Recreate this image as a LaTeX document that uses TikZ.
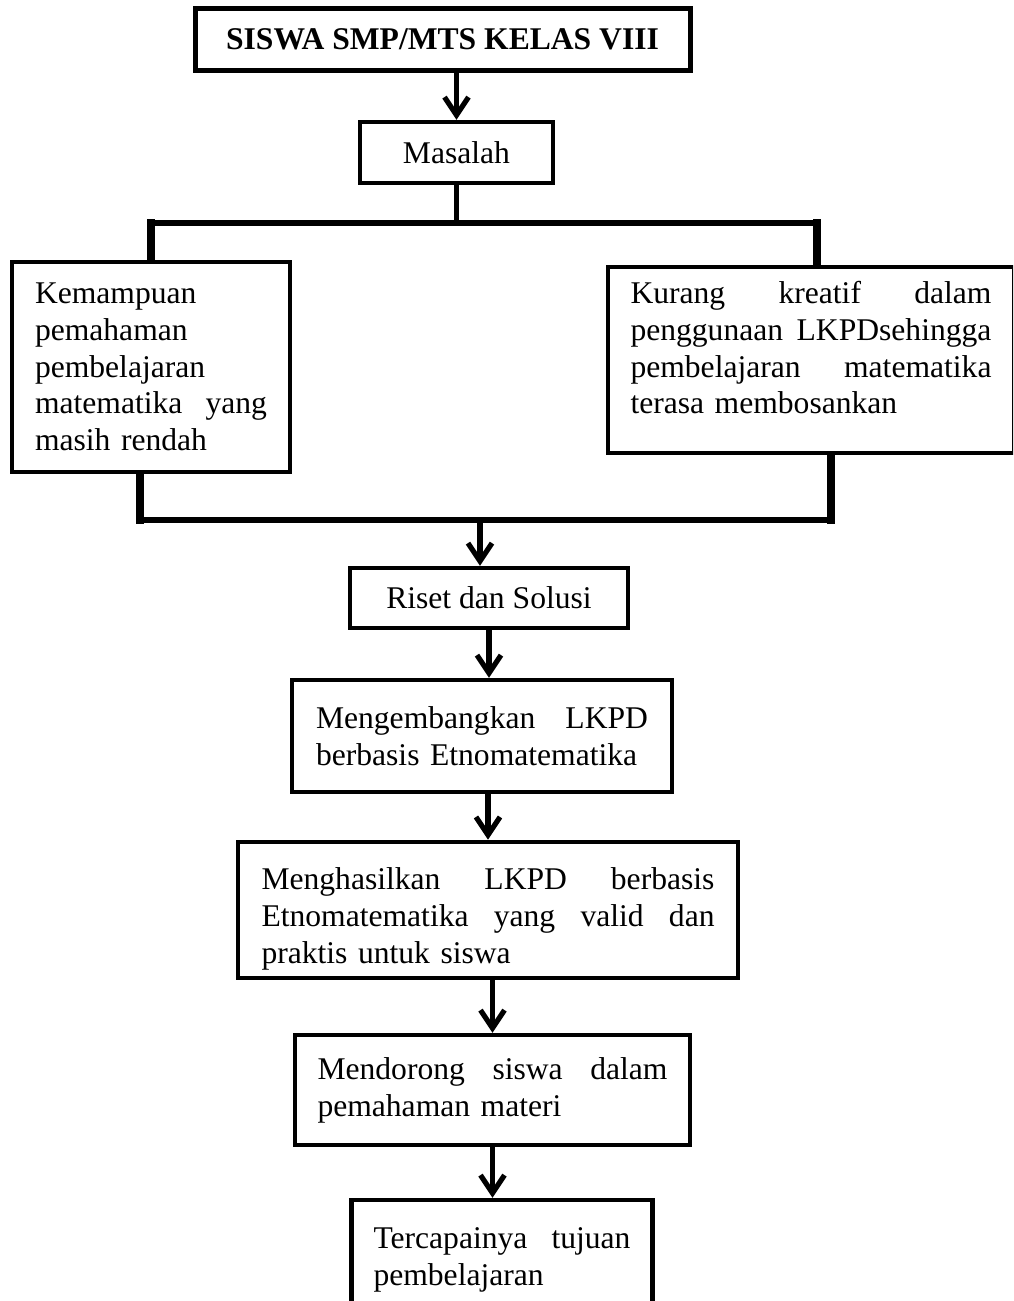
\documentclass[tikz,border=0pt]{standalone}
\usepackage{fontspec}
\setmainfont{Liberation Serif}
\usepackage{tikz}
\usetikzlibrary{positioning}
\usetikzlibrary{arrows.meta}

\tikzset{
  box/.style={draw, line width=2.2pt, rectangle, inner xsep=11pt, inner ysep=4pt,
    font=\fontsize{15.8}{18.4}\selectfont},
  textbox/.style={box, align=left},
  link/.style={line width=2.8pt, line cap=rect},
  stub/.style={line width=3.8pt, line cap=rect},
  arr/.style={line width=2.6pt, -{Straight Barb[length=9pt,width=12pt,line width=2.6pt]}}
}

\begin{document}
\begin{tikzpicture}[x=0.5pt,y=-0.5pt]

\useasboundingbox (0,0) rectangle (1013,1301);
\clip (0,0) rectangle (1013,1301);

%\draw[gray,very thin, step=50, opacity=0.5] (0,0) grid (1013,1301);

\node[box, line width=2.5pt] (siswa) at (442.5,39) [minimum width=247.5pt, minimum height=31pt] {\textbf{SISWA SMP/MTS KELAS VIII}};
\node[box] (masalah) at (456.5,152.5) [minimum width=96.5pt, minimum height=30.5pt] {Masalah};

\node[textbox] (kemampuan) at (151,367) [minimum width=139pt, minimum height=105pt, text width=116pt]
  {Kemampuan\\ pemahaman\\ pembelajaran\\ matematika\hfill yang\\ masih rendah};
\node[textbox] (kurang) at (811,360) [minimum width=203pt, minimum height=93pt, text width=180.5pt]
  {Kurang\hfill kreatif\hfill dalam\\ penggunaan\hfill LKPDsehingga\\ pembelajaran\hfill matematika\\ terasa membosankan\rule[-12.5pt]{0pt}{1pt}};

\node[box] (riset) at (489,598) [minimum width=139pt, minimum height=30pt] {Riset dan Solusi};
\node[textbox] (kembang) at (482,736) [minimum width=190pt, minimum height=56pt, text width=166pt]
  {Mengembangkan\hfill LKPD\\ berbasis Etnomatematika};
\node[textbox] (hasil) at (488,910) [minimum width=250pt, minimum height=67pt, text width=226.5pt]
  {\rule{0pt}{20pt}Menghasilkan\hfill LKPD\hfill berbasis\\ Etnomatematika\hfill yang\hfill valid\hfill dan\\ praktis untuk siswa};
\node[textbox] (dorong) at (492.5,1090) [minimum width=197.5pt, minimum height=55pt, text width=175pt]
  {Mendorong\hfill siswa\hfill dalam\\ pemahaman materi};
\node[textbox] (tujuan) at (502,1260) [minimum width=150pt, minimum height=60pt, text width=128.5pt]
  {Tercapainya\hfill tujuan\\ pembelajaran};

% branching
\coordinate (split) at (456.5,223);
\coordinate (joinL) at (140,520);
\coordinate (joinR) at (831,520);
\coordinate (merge) at (480,520);

\draw[arr] (masalah.north |- siswa.south) -- (masalah.north);
\draw[link] (masalah.south) -- (split);
\draw[link] (kemampuan.north |- split) -- ([xshift=3pt]kurang.north |- split);
\draw[stub] (kemampuan.north) -- (kemampuan.north |- split);
\draw[stub] ([xshift=3pt]kurang.north) -- ([xshift=3pt]kurang.north |- split);

\draw[stub] (joinL |- kemampuan.south) -- (joinL);
\draw[stub] (joinR |- kurang.south) -- (joinR);
\draw[link] (joinL) -- (joinR);

\draw[arr] (merge) -- (merge |- riset.north);
\draw[arr] (riset.south) -- (riset.south |- kembang.north);
\draw[arr] (hasil.north |- kembang.south) -- (hasil.north);
\draw[arr] (dorong.north |- hasil.south) -- (dorong.north);
\draw[arr] (dorong.south) -- (dorong.south |- tujuan.north);

\end{tikzpicture}
\end{document}
